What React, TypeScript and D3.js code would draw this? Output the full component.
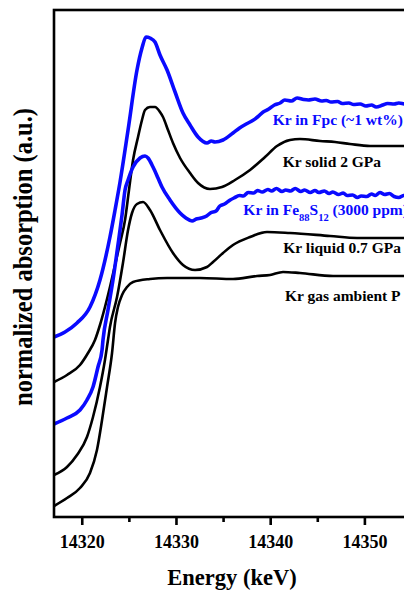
import React from "react";
import * as d3 from "d3";

// Energy (eV, axis labelled keV as in the original) vs normalized absorption (offset, a.u.)
const krFpc: [number, number][] = [
  [14317.0, 1.8], [14318.17, 1.85], [14319.44, 1.94], [14320.82, 2.1], [14321.88, 2.37],
  [14322.94, 2.8], [14323.48, 3.07], [14324.01, 3.35], [14324.86, 3.87], [14325.81, 4.47],
  [14326.34, 4.69], [14326.77, 4.8], [14327.19, 4.79], [14327.72, 4.75], [14328.25, 4.62],
  [14329.0, 4.47], [14329.85, 4.25], [14330.69, 4.04], [14331.44, 3.92], [14332.29, 3.8],
  [14333.24, 3.74], [14333.7, 3.76], [14334.09, 3.75], [14334.94, 3.77], [14336.0, 3.84],
  [14336.7, 3.89], [14337.4, 3.93], [14338.0, 3.96], [14338.6, 4.0], [14339.2, 4.05],
  [14339.8, 4.08], [14340.4, 4.12], [14341.0, 4.14], [14341.5, 4.17], [14342.2, 4.16],
  [14342.8, 4.19], [14343.5, 4.175], [14344.0, 4.17], [14344.7, 4.18], [14345.4, 4.16],
  [14345.9, 4.165], [14346.4, 4.15], [14347.1, 4.155], [14347.6, 4.135], [14348.3, 4.14],
  [14348.8, 4.125], [14349.5, 4.13], [14350.1, 4.11], [14350.7, 4.12], [14351.2, 4.1],
  [14351.9, 4.12], [14352.4, 4.135], [14353.1, 4.13], [14353.6, 4.14], [14354.3, 4.13],
  [14355.0, 4.13],
];

const krSolid2GPa: [number, number][] = [
  [14317.0, 1.35], [14318.38, 1.42], [14319.76, 1.52], [14320.61, 1.64], [14321.35, 1.77],
  [14321.88, 1.92], [14322.41, 2.1], [14322.94, 2.3], [14323.48, 2.52], [14324.01, 2.74],
  [14324.54, 2.97], [14324.96, 3.27], [14325.39, 3.57], [14325.92, 3.8], [14326.34, 3.97],
  [14326.66, 4.07], [14327.19, 4.1], [14327.72, 4.1], [14328.25, 4.05], [14328.57, 4.0],
  [14329.1, 3.87], [14329.63, 3.74], [14330.38, 3.59], [14331.44, 3.44], [14332.29, 3.34],
  [14333.56, 3.28], [14334.83, 3.3], [14336.21, 3.37], [14337.81, 3.47], [14339.4, 3.6],
  [14340.67, 3.71], [14342.05, 3.77], [14343.11, 3.78], [14345.24, 3.76], [14346.83, 3.75],
  [14348.42, 3.73], [14350.55, 3.71], [14354.15, 3.71], [14355.0, 3.71],
];

const krFe88S12: [number, number][] = [
  [14317.0, 0.93], [14318.38, 0.99], [14319.76, 1.07], [14320.5, 1.17], [14321.14, 1.3],
  [14321.67, 1.5], [14322.1, 1.67], [14322.2, 1.77], [14322.73, 2.07], [14323.26, 2.37],
  [14323.79, 2.72], [14324.22, 3.02], [14324.54, 3.27], [14324.86, 3.37], [14325.39, 3.5],
  [14326.13, 3.59], [14326.66, 3.61], [14326.98, 3.59], [14327.51, 3.5], [14328.04, 3.39],
  [14328.46, 3.3], [14329.31, 3.17], [14330.38, 3.04], [14331.0, 2.99], [14331.65, 2.96],
  [14332.1, 2.98], [14332.6, 2.99], [14333.2, 3.01], [14333.6, 3.04], [14334.2, 3.06],
  [14334.6, 3.11], [14335.1, 3.13], [14335.7, 3.17], [14336.1, 3.19], [14336.7, 3.215],
  [14337.1, 3.21], [14337.6, 3.245], [14338.2, 3.24], [14338.6, 3.265], [14339.1, 3.25],
  [14339.7, 3.275], [14340.1, 3.26], [14340.6, 3.285], [14341.2, 3.255], [14341.6, 3.27],
  [14342.1, 3.26], [14342.6, 3.285], [14343.2, 3.255], [14343.6, 3.27], [14344.2, 3.245],
  [14344.7, 3.265], [14345.1, 3.245], [14345.7, 3.26], [14346.2, 3.235], [14346.6, 3.25],
  [14347.2, 3.225], [14347.7, 3.24], [14348.1, 3.215], [14348.7, 3.22], [14349.2, 3.195],
  [14349.6, 3.21], [14350.2, 3.205], [14350.7, 3.23], [14351.1, 3.215], [14351.6, 3.245],
  [14352.1, 3.225], [14352.6, 3.235], [14353.1, 3.205], [14353.6, 3.195], [14354.1, 3.215],
  [14355.0, 3.22],
];

const krLiquid07GPa: [number, number][] = [
  [14317.0, 0.42], [14318.38, 0.5], [14319.44, 0.62], [14320.5, 0.8], [14321.14, 1.0],
  [14321.88, 1.3], [14322.41, 1.57], [14322.73, 1.77], [14322.94, 1.9], [14323.69, 2.2],
  [14324.32, 2.54], [14324.86, 2.87], [14325.28, 3.04], [14325.81, 3.13], [14326.45, 3.15],
  [14327.19, 3.07], [14328.25, 2.87], [14329.63, 2.64], [14330.69, 2.52], [14331.97, 2.47],
  [14333.24, 2.5], [14333.88, 2.55], [14334.94, 2.64], [14336.0, 2.72], [14337.81, 2.8],
  [14339.61, 2.85], [14342.05, 2.84], [14346.3, 2.81], [14349.17, 2.79], [14354.15, 2.79],
  [14355.0, 2.79],
];

const krGasAmbient: [number, number][] = [
  [14317.0, 0.11], [14318.38, 0.19], [14319.76, 0.29], [14320.82, 0.44], [14321.56, 0.67],
  [14322.1, 0.97], [14322.63, 1.3], [14323.16, 1.64], [14323.48, 1.94], [14323.79, 2.1],
  [14324.22, 2.22], [14324.75, 2.3], [14325.39, 2.35], [14327.19, 2.38], [14329.0, 2.39],
  [14332.5, 2.39], [14336.0, 2.38], [14338.55, 2.41], [14339.93, 2.42], [14341.31, 2.45],
  [14343.11, 2.44], [14346.62, 2.41], [14350.23, 2.41], [14354.15, 2.41], [14355.0, 2.41],
];

const majorTicks = [14320, 14330, 14340, 14350];
const minorTicks = [14325, 14335, 14345, 14355];

const xLabel = "Energy (keV)";
const yLabel = "normalized absorption (a.u.)";

const BLUE = "#0a0aff";
const FONT = "'Liberation Serif', 'Times New Roman', serif";

const series = [
  { data: krFpc, color: BLUE, width: 3.6 },
  { data: krSolid2GPa, color: "#000", width: 2.6 },
  { data: krFe88S12, color: BLUE, width: 3.6 },
  { data: krLiquid07GPa, color: "#000", width: 2.6 },
  { data: krGasAmbient, color: "#000", width: 2.6 },
];

export default function App() {
  const W = 404;
  const H = 590;
  const left = 54;
  const right = 412;
  const top = 10;
  const bottom = 517;

  const x = d3.scaleLinear().domain([14317, 14355]).range([left, right]);
  const y = d3.scaleLinear().domain([0, 5.07]).range([bottom, top]);

  const line = d3
    .line<[number, number]>()
    .x((d) => x(d[0]))
    .y((d) => y(d[1]))
    .curve(d3.curveMonotoneX);

  // annotation anchors in data coordinates
  const annotations = [
    { E: 14340.22, v: 3.92, color: BLUE, parts: [{ t: "Kr in Fpc (~1 wt%)" }] },
    { E: 14341.28, v: 3.5, color: "#000", parts: [{ t: "Kr solid 2 GPa" }] },
    {
      E: 14337.1,
      v: 3.02,
      color: BLUE,
      parts: [
        { t: "Kr in Fe" },
        { t: "88", sub: true },
        { t: "S" },
        { t: "12", sub: true },
        { t: " (3000 ppm)" },
      ],
    },
    { E: 14341.34, v: 2.637, color: "#000", parts: [{ t: "Kr liquid 0.7 GPa" }] },
    { E: 14341.52, v: 2.16, color: "#000", parts: [{ t: "Kr gas ambient P" }] },
  ];

  return (
    <svg
      width={W}
      height={H}
      style={{ position: "absolute", left: 0, top: 0, background: "#fff" }}
      fontFamily={FONT}
      fontWeight="bold"
    >
      <defs>
        <clipPath id="plotClip">
          <rect x={left} y={top} width={right - left} height={bottom - top} />
        </clipPath>
      </defs>
      <rect x={0} y={0} width={W} height={H} fill="#fff" />
      <g clipPath="url(#plotClip)">
        {series.map((s, i) => (
          <path
            key={i}
            d={line(s.data) || ""}
            fill="none"
            stroke={s.color}
            strokeWidth={s.width}
            strokeLinejoin="round"
            strokeLinecap="round"
          />
        ))}
      </g>
      {annotations.map((a, i) => (
        <text key={i} x={x(a.E)} y={y(a.v)} fill={a.color} fontSize={15.5}>
          {a.parts.map((p: any, j: number) =>
            p.sub ? (
              <tspan key={j} fontSize={10.5} dy={6}>
                {p.t}
              </tspan>
            ) : (
              <tspan key={j} dy={j > 0 && (a.parts[j - 1] as any).sub ? -6 : 0}>
                {p.t}
              </tspan>
            )
          )}
        </text>
      ))}
      <rect
        x={left}
        y={top}
        width={right - left}
        height={bottom - top}
        fill="none"
        stroke="#000"
        strokeWidth={2.6}
      />
      {majorTicks.map((t) => (
        <g key={t}>
          <line x1={x(t)} x2={x(t)} y1={bottom} y2={bottom + 8} stroke="#000" strokeWidth={2.6} />
          <text x={x(t)} y={548} textAnchor="middle" fontSize={18} fill="#000">
            {t}
          </text>
        </g>
      ))}
      {minorTicks.map((t) => (
        <line key={t} x1={x(t)} x2={x(t)} y1={bottom} y2={bottom + 5} stroke="#000" strokeWidth={2.6} />
      ))}
      <text x={232} y={585} textAnchor="middle" fontSize={22.5} fill="#000">
        {xLabel}
      </text>
      <text
        transform="translate(31.5,257) scale(1.15,1) rotate(-90)"
        textAnchor="middle"
        fontSize={24.5}
        fill="#000"
      >
        {yLabel}
      </text>
    </svg>
  );
}
